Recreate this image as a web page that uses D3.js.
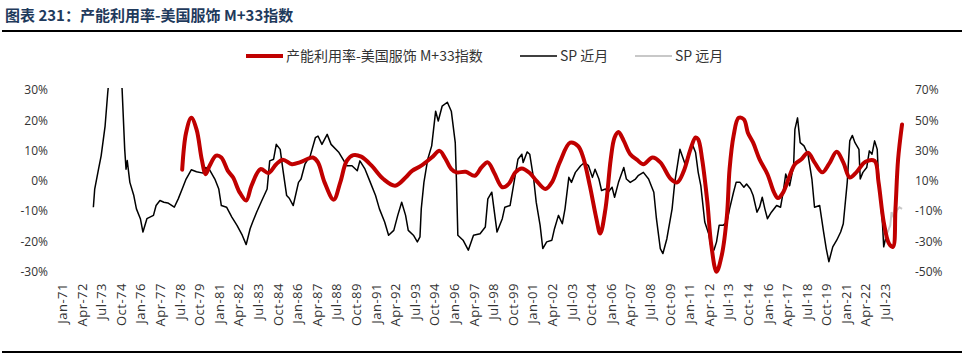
<!DOCTYPE html>
<html><head><meta charset="utf-8">
<script src="https://cdn.jsdelivr.net/npm/d3@7"></script>
<style>
html,body{margin:0;padding:0;background:#fff;}
svg{display:block;}
</style></head>
<body><div id="chart"></div>
<script>
const titleText = "图表 231：产能利用率-美国服饰 M+33指数";
const seriesNames = ["产能利用率-美国服饰 M+33指数", "SP 近月", "SP 远月"];
const xTickLabels = ["Jan-71","Apr-72","Jul-73","Oct-74","Jan-76","Apr-77","Jul-78","Oct-79","Jan-81","Apr-82","Jul-83","Oct-84","Jan-86","Apr-87","Jul-88","Oct-89","Jan-91","Apr-92","Jul-93","Oct-94","Jan-96","Apr-97","Jul-98","Oct-99","Jan-01","Apr-02","Jul-03","Oct-04","Jan-06","Apr-07","Jul-08","Oct-09","Jan-11","Apr-12","Jul-13","Oct-14","Jan-16","Apr-17","Jul-18","Oct-19","Jan-21","Apr-22","Jul-23"];
const leftTicks = [30,20,10,0,-10,-20,-30];
const rightTicks = [70,50,30,10,-10,-30,-50];

// 产能利用率-美国服饰 M+33指数 (left axis, %)
const capDates = ["1978-09","1978-12","1979-04","1979-08","1979-12","1980-03","1980-06","1980-11","1981-03","1981-08","1981-12","1982-05","1982-10","1983-02","1983-09","1984-03","1984-09","1985-02","1985-09","1986-03","1986-10","1987-01","1987-05","1987-10","1988-05","1988-10","1989-03","1989-08","1990-02","1990-10","1991-07","1992-04","1992-12","1993-05","1993-12","1994-08","1995-02","1995-06","1995-11","1996-03","1996-10","1997-05","1997-10","1998-03","1998-08","1999-02","1999-07","1999-12","2000-05","2000-11","2001-04","2001-11","2002-04","2002-10","2003-06","2003-12","2004-04","2004-09","2005-02","2005-05","2005-09","2006-01","2006-04","2006-07","2006-11","2007-04","2007-09","2008-02","2008-09","2009-03","2009-11","2010-04","2010-09","2011-02","2011-06","2011-08","2011-11","2012-03","2012-06","2012-10","2013-02","2013-06","2013-08","2013-11","2014-03","2014-07","2014-10","2015-02","2015-07","2016-01","2016-06","2016-09","2017-01","2017-06","2017-10","2018-03","2018-08","2019-01","2019-07","2019-12","2020-06","2020-11","2021-04","2021-09","2022-04","2022-11","2023-02","2023-06","2023-10","2024-01","2024-03","2024-05","2024-08"];
const capValues = [3.7,15.9,20.8,17.0,7.1,2.2,5.0,8.3,7.7,3.3,1.1,-3.8,-6.5,-1.6,3.9,2.6,5.5,7.0,5.5,6.1,7.4,7.7,6.1,-0.5,-6.2,-0.5,6.6,8.5,8.0,5.0,0.6,-1.6,1.1,3.3,5.0,7.7,9.9,7.7,3.9,2.8,3.0,1.7,4.4,6.1,2.5,-2.1,-1.0,2.8,4.1,2.6,0.1,-2.7,-0.5,6.1,12.6,11.5,7.7,-1.6,-12.5,-17.4,-9.2,7.1,14.3,16.1,13.2,8.8,7.0,5.5,7.7,6.1,0.6,-0.5,3.3,10.4,14.3,13.7,7.1,-7.0,-21.2,-30.0,-24.5,-11.4,3.9,14.8,20.8,20.3,15.9,12.6,7.1,2.2,-3.8,-5.7,-3.8,1.7,5.5,7.1,9.3,6.1,2.8,5.5,9.6,6.1,1.1,2.8,6.3,6.6,-0.5,-13.6,-20.7,-21.8,-9.2,7.1,18.6];

// SP 近月 (right axis, %)
const spNearDates = ["1973-01","1973-02","1973-05","1973-07","1973-10","1973-12","1974-03","1974-06","1974-09","1974-11","1975-01","1975-02","1975-03","1975-05","1975-08","1975-10","1976-01","1976-03","1976-06","1976-11","1977-01","1977-04","1977-07","1977-10","1978-03","1978-06","1978-09","1978-12","1979-04","1979-08","1980-01","1980-03","1980-06","1980-10","1981-01","1981-03","1981-07","1981-11","1982-03","1982-07","1982-10","1983-01","1983-03","1983-06","1983-10","1984-02","1984-04","1984-07","1984-09","1984-12","1985-02","1985-05","1985-07","1985-10","1986-02","1986-04","1986-07","1986-11","1987-03","1987-05","1987-08","1987-12","1988-03","1988-09","1988-12","1989-03","1989-07","1989-11","1990-01","1990-05","1990-09","1991-01","1991-04","1991-08","1991-11","1992-03","1992-06","1992-09","1992-12","1993-02","1993-06","1993-09","1993-11","1993-12","1994-02","1994-05","1994-08","1994-11","1995-01","1995-04","1995-08","1995-11","1996-02","1996-03","1996-04","1996-08","1996-12","1997-04","1997-09","1998-01","1998-03","1998-06","1998-08","1998-10","1999-02","1999-04","1999-08","1999-11","2000-02","2000-05","2000-06","2000-09","2000-11","2001-02","2001-04","2001-07","2001-09","2001-12","2002-04","2002-06","2002-09","2002-12","2003-02","2003-05","2003-07","2003-10","2004-02","2004-05","2004-08","2004-11","2005-01","2005-04","2005-06","2005-09","2005-11","2006-02","2006-04","2006-07","2006-11","2007-01","2007-04","2007-08","2007-10","2008-02","2008-06","2008-10","2008-12","2009-03","2009-05","2009-08","2009-12","2010-02","2010-06","2010-10","2011-02","2011-04","2011-06","2011-08","2011-10","2012-01","2012-04","2012-06","2012-08","2012-10","2012-12","2013-03","2013-06","2013-08","2013-11","2014-01","2014-04","2014-07","2014-09","2014-12","2015-02","2015-05","2015-07","2015-09","2015-11","2016-01","2016-04","2016-08","2016-11","2017-01","2017-03","2017-06","2017-09","2017-10","2017-12","2018-02","2018-05","2018-08","2018-11","2019-01","2019-05","2019-08","2019-10","2019-12","2020-03","2020-06","2020-09","2020-11","2021-02","2021-04","2021-06","2021-08","2021-11","2021-12","2022-02","2022-05","2022-07","2022-09","2022-11","2023-01","2023-02","2023-05","2023-06","2023-08"];
const spNearValues = [-7.4,4.6,17.7,26.5,46.2,68.0,95,110,90,70.6,30.8,17.7,23.4,9.0,0.3,-8.5,-15.0,-23.8,-15.0,-12.8,-6.3,-3.0,-4.1,-4.6,-7.4,-1.9,4.6,11.2,17.3,16.0,15.1,18.8,17.3,11.2,4.6,-6.3,-7.4,-13.9,-19.4,-25.9,-32.1,-21.6,-17.2,-10.7,-3.0,4.6,23.2,24.3,34.1,30.8,17.7,0.3,-1.5,-6.3,9.0,11.2,21.0,26.5,38.5,39.6,34.1,40.7,34.1,28.7,24.3,20.0,20.0,16.7,23.2,17.7,9.0,0.3,-8.5,-17.2,-25.9,-22.7,-12.8,-4.1,-12.8,-22.7,-25.9,-30.3,-27.0,-8.5,9.0,24.3,33.1,56.0,49.5,59.3,61.9,56.0,35.2,9.0,-25.9,-29.2,-35.8,-25.9,-24.9,-20.5,-1.9,2.5,-10.7,-23.8,-15.0,-7.4,-6.3,9.0,24.3,27.6,22.1,29.1,27.6,11.2,-4.1,-19.4,-34.7,-30.3,-29.2,-21.6,-12.8,-18.3,-8.5,12.3,9.0,15.6,20.0,22.1,20.0,12.3,17.7,11.2,3.6,4.6,2.5,5.8,-0.8,9.0,18.8,11.2,9.0,11.2,13.4,15.6,11.2,2.5,-15.0,-34.7,-38.0,-28.2,-8.5,9.0,30.8,21.0,32.0,33.1,28.7,15.6,6.8,-17.2,-24.9,-34.7,-35.8,-30.3,-19.4,-19.4,-17.2,-8.5,2.5,9.0,9.0,5.8,7.9,4.6,0.3,-10.7,-7.4,-0.8,-8.5,-15.0,-10.7,-6.3,-7.4,2.5,14.5,6.8,20.0,44.0,51.6,35.2,33.1,27.6,11.2,-7.4,-6.3,-23.8,-34.7,-43.4,-33.6,-29.2,-23.8,-18.3,9.0,36.4,40.0,35.2,30.8,11.2,15.6,18.8,29.8,27.6,36.4,30.8,11.2,-17.2,-33.6,-25.9];

// SP 远月 (right axis, %)
const spFarDates = ["2023-07","2023-11","2023-12","2024-02","2024-04","2024-06","2024-08"];
const spFarValues = [-28.2,-19.4,-10.7,-15.0,-9.5,-7.4,-8.5];

const W = 962, H = 357;
const parseYM = d3.timeParse("%Y-%m");
const parseTick = d3.timeParse("%b-%y");
const zip = (ds, vs) => ds.map((d,i) => ({date: parseYM(d), value: vs[i]}));
const capData = zip(capDates, capValues);
const nearData = zip(spNearDates, spNearValues);
const farData = zip(spFarDates, spFarValues);

const svg = d3.select("#chart").append("svg").attr("width", W).attr("height", H);
const font = "'Open Sans','Noto Sans CJK SC',sans-serif";
const cjk = "'Noto Sans CJK SC','Noto Sans',sans-serif";

// title & rules
svg.append("text").attr("x", 5).attr("y", 21).text(titleText)
  .attr("font-family", cjk).attr("font-weight", "bold").attr("font-size", 15).attr("fill", "#1f3a5c");
svg.append("line").attr("x1", 2).attr("x2", W).attr("y1", 31).attr("y2", 31).attr("stroke", "#000").attr("stroke-width", 2);
svg.append("line").attr("x1", 2).attr("x2", W).attr("y1", 352).attr("y2", 352).attr("stroke", "#000").attr("stroke-width", 2);

const x = d3.scaleTime().domain([parseTick("Jan-71"), parseTick("Jul-23")]).range([62, 885]);
const yL = d3.scaleLinear().domain([-30, 30]).range([271.7, 90]);
const yR = d3.scaleLinear().domain([-50, 70]).range([271.7, 90]);

svg.append("defs").append("clipPath").attr("id", "plot")
  .append("rect").attr("x", 50).attr("y", 88).attr("width", 860).attr("height", 188);

// axes
const axL = svg.append("g").attr("transform", "translate(48,0)")
  .call(d3.axisLeft(yL).tickValues(leftTicks).tickSize(0).tickPadding(0).tickFormat(d => d + "%"));
const axR = svg.append("g").attr("transform", "translate(915,0)")
  .call(d3.axisRight(yR).tickValues(rightTicks).tickSize(0).tickPadding(0).tickFormat(d => d + "%"));
const tickDates = xTickLabels.map(parseTick);
const axX = svg.append("g").attr("transform", "translate(0,283)")
  .call(d3.axisBottom(x).tickValues(tickDates).tickSize(0).tickPadding(0).tickFormat(d3.timeFormat("%b-%y")));
[axL, axR, axX].forEach(a => {
  a.select(".domain").remove();
  a.selectAll("text").attr("font-family", font).attr("font-size", 12).attr("fill", "#333");
});
axX.selectAll("text").attr("transform", "rotate(-90)").attr("text-anchor", "end")
  .attr("x", 0).attr("y", 0).attr("dy", "0.35em").attr("font-size", 13).attr("letter-spacing", 0.5);

// lines
const g = svg.append("g").attr("clip-path", "url(#plot)");
g.append("path").datum(nearData).attr("fill", "none").attr("stroke", "#000").attr("stroke-width", 1.5)
  .attr("stroke-linejoin", "round")
  .attr("d", d3.line().x(d => x(d.date)).y(d => yR(d.value)));
g.append("path").datum(farData).attr("fill", "none").attr("stroke", "#c8c8c8").attr("stroke-width", 2)
  .attr("d", d3.line().x(d => x(d.date)).y(d => yR(d.value)));
g.append("path").datum(capData).attr("fill", "none").attr("stroke", "#c00000").attr("stroke-width", 4)
  .attr("stroke-linejoin", "round").attr("stroke-linecap", "round")
  .attr("d", d3.line().curve(d3.curveCatmullRom.alpha(0.5)).x(d => x(d.date)).y(d => yL(d.value)));

// legend
const legend = [
  {name: seriesNames[0], color: "#c00000", w: 4, x: 246},
  {name: seriesNames[1], color: "#000", w: 1.5, x: 520},
  {name: seriesNames[2], color: "#c8c8c8", w: 2, x: 635}
];
const lg = svg.append("g");
legend.forEach(l => {
  lg.append("line").attr("x1", l.x).attr("x2", l.x + 37).attr("y1", 56).attr("y2", 56)
    .attr("stroke", l.color).attr("stroke-width", l.w);
  lg.append("text").attr("x", l.x + 40).attr("y", 56).attr("dy", "0.35em").text(l.name)
    .attr("font-family", cjk).attr("font-size", 14).attr("fill", "#333");
});
</script></body></html>
